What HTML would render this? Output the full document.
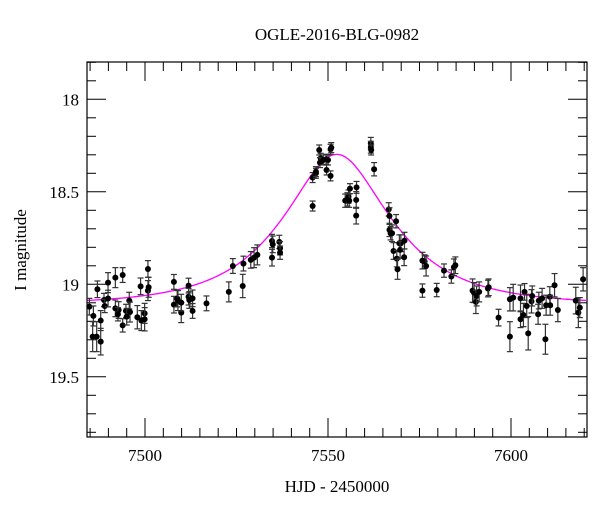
<!DOCTYPE html>
<html><head><meta charset="utf-8"><style>
body{margin:0;background:#fff;}
svg{display:block;font-family:"Liberation Serif",serif;}
</style></head><body>
<svg id="chart" width="600" height="512">
<text x="337" y="40" text-anchor="middle" font-size="17">OGLE-2016-BLG-0982</text>
<text x="337" y="492" text-anchor="middle" font-size="17">HJD - 2450000</text>
<text transform="translate(26,250) rotate(-90)" text-anchor="middle" font-size="17">I magnitude</text>
<g id="axes"></g>
<g id="model"></g>
<g id="points"></g>
</svg>
<script>
const days=[7484.8,7485.9,7485.7,7486.8,7487.9,7487.9,7487.0,7488.8,7489.0,7489.9,7489.9,7491.9,7491.9,7492.8,7492.6,7493.9,7493.9,7494.8,7495.0,7495.7,7495.9,7497.9,7498.8,7499.0,7499.9,7499.9,7500.8,7500.8,7501.0,7507.9,7507.9,7508.8,7509.0,7509.9,7509.9,7511.9,7511.9,7512.1,7513.0,7513.0,7516.8,7522.9,7524.0,7526.9,7526.7,7528.9,7529.8,7530.7,7534.7,7534.9,7534.7,7536.7,7536.9,7536.9,7545.8,7545.8,7546.7,7546.7,7547.6,7548.0,7547.8,7548.7,7549.5,7549.6,7550.0,7550.7,7550.9,7550.7,
7561.7,7561.7,7561.8,7562.6,7554.7,7555.3,7555.6,7556.0,7555.8,7557.8,7557.7,7557.7,7566.6,7566.8,7566.8,7567.1,7567.5,7567.9,7568.6,7568.8,7569.0,7569.5,7569.9,7569.7,7570.8,7570.9,7575.8,7575.8,7576.4,7576.8,7579.7,7581.7,7583.7,7584.4,7584.8,7589.5,7589.9,7590.4,7590.6,7591.3,7593.7,7593.9,7596.6,7599.7,7599.7,7600.6,7602.6,7602.6,7603.4,7603.7,7604.3,7604.7,7605.6,7605.8,7607.4,7607.6,7608.5,7609.4,7609.6,7610.6,7610.7,7611.9,7612.8,7617.7,7618.4,7618.8,7619.7];
const mags=[19.121,19.171,19.283,19.283,19.310,19.196,19.027,19.085,19.117,18.991,19.077,18.964,19.130,19.139,19.162,18.950,19.222,19.144,19.175,19.088,19.150,19.178,19.011,19.196,19.157,19.189,18.917,19.034,19.016,18.987,19.110,19.077,19.088,19.153,19.099,19.007,19.067,19.085,19.076,19.144,19.103,19.041,18.901,18.888,19.009,18.868,18.856,18.841,18.766,18.784,18.856,18.771,18.805,18.829,18.577,18.423,18.400,18.391,18.274,18.319,18.342,18.328,18.324,18.382,18.328,18.270,18.261,18.414,
18.238,18.259,18.274,18.378,18.548,18.541,18.526,18.483,18.548,18.476,18.544,18.629,18.595,18.631,18.706,18.724,18.724,18.820,18.659,18.861,18.919,18.778,18.778,18.814,18.854,18.764,18.872,19.034,18.877,18.901,19.031,18.926,18.958,18.908,18.897,19.034,19.045,19.095,19.063,19.041,19.023,19.016,19.180,19.283,19.081,19.072,19.076,19.189,19.166,19.041,19.117,19.265,19.092,19.063,19.162,19.088,19.076,19.297,19.113,19.067,19.113,19.005,19.139,19.088,19.153,19.126,18.973];
const errs=[0.045,0.054,0.081,0.081,0.072,0.054,0.045,0.036,0.036,0.054,0.045,0.054,0.045,0.045,0.036,0.040,0.036,0.036,0.045,0.045,0.054,0.063,0.045,0.054,0.054,0.063,0.045,0.054,0.054,0.040,0.045,0.045,0.054,0.054,0.045,0.040,0.045,0.045,0.045,0.040,0.040,0.054,0.040,0.040,0.063,0.045,0.054,0.054,0.036,0.045,0.045,0.036,0.036,0.036,0.027,0.027,0.027,0.027,0.027,0.027,0.027,0.027,0.027,0.027,0.027,0.027,0.027,0.027,
0.032,0.032,0.027,0.036,0.036,0.036,0.036,0.027,0.036,0.032,0.045,0.045,0.036,0.045,0.036,0.036,0.045,0.045,0.036,0.045,0.054,0.045,0.045,0.045,0.045,0.045,0.045,0.036,0.036,0.054,0.036,0.036,0.036,0.045,0.045,0.063,0.054,0.063,0.054,0.054,0.045,0.045,0.045,0.081,0.063,0.072,0.072,0.045,0.063,0.045,0.063,0.090,0.063,0.054,0.054,0.045,0.054,0.081,0.054,0.054,0.054,0.063,0.063,0.072,0.081,0.054,0.063];
const xTicks=[7500,7550,7600];
const yTicks=[18,18.5,19,19.5];
const model={t0:7552.4,u0:0.52,tE:24.7,base:19.11};

const NS="http://www.w3.org/2000/svg";
const L=87,R=587,T=62,B=437;
const x=d=>145+(d-7500)*3.66;
const y=m=>99.3+(m-18)*185;
function mk(tag,attrs,parent){const e=document.createElementNS(NS,tag);for(const k in attrs)e.setAttribute(k,attrs[k]);parent.appendChild(e);return e;}
const ax=document.getElementById('axes');
const frame=mk('rect',{x:L,y:T,width:R-L,height:B-T,fill:'none',stroke:'#000','stroke-width':1.2},ax);


for(let d=7485;d<=7620;d+=5){
  const major=d%50===0,len=major?19:9,px=x(d);
  const t1=mk('line',{x1:px,x2:px,y1:B,y2:B-len,stroke:'#000'},ax);
  
  
  const t2=mk('line',{x1:px,x2:px,y1:T,y2:T+len,stroke:'#000'},ax);
  
  
}
xTicks.forEach(v=>{const t=mk('text',{x:x(v),y:B+24,'text-anchor':'middle','font-size':17},ax);t.textContent=v;
  
  });
for(let i=0;i<=20;i++){
  const m=17.8+i*0.1,py=y(m);if(py<T||py>B)continue;
  const major=Math.abs(m*2-Math.round(m*2))<1e-6,len=major?19:9;
  const t1=mk('line',{x1:L,x2:L+len,y1:py,y2:py,stroke:'#000'},ax);
  
  
  const t2=mk('line',{x1:R,x2:R-len,y1:py,y2:py,stroke:'#000'},ax);
  
  
}
yTicks.forEach(v=>{const t=mk('text',{x:L-8,y:y(v)+6,'text-anchor':'end','font-size':17},ax);t.textContent=v;
  
  });
// model
let pts=[];
for(let d=7484.3;d<=7620.8;d+=0.3){
  const tau=(d-model.t0)/model.tE,u=Math.sqrt(tau*tau+model.u0*model.u0);
  const A=(u*u+2)/(u*Math.sqrt(u*u+4));
  pts.push(x(d).toFixed(1)+','+y(model.base-2.5*Math.log10(A)).toFixed(1));
}
const ml=mk('polyline',{points:pts.join(' '),fill:'none',stroke:'#ff00ff','stroke-width':1.3},document.getElementById('model'));


const pg=document.getElementById('points');
days.forEach((d,i)=>{
  const px=x(d),py=y(mags[i]),e=errs[i]*185;
  const g=mk('g',{},pg);
  
  
  mk('line',{x1:px,x2:px,y1:py-e,y2:py+e,stroke:'#333','stroke-width':1.2},g);
  mk('line',{x1:px-3,x2:px+3,y1:py-e,y2:py-e,stroke:'#333','stroke-width':1.2},g);
  mk('line',{x1:px-3,x2:px+3,y1:py+e,y2:py+e,stroke:'#333','stroke-width':1.2},g);
  mk('circle',{cx:px,cy:py,r:3,fill:'#000'},g);
});
</script>
</body></html>
